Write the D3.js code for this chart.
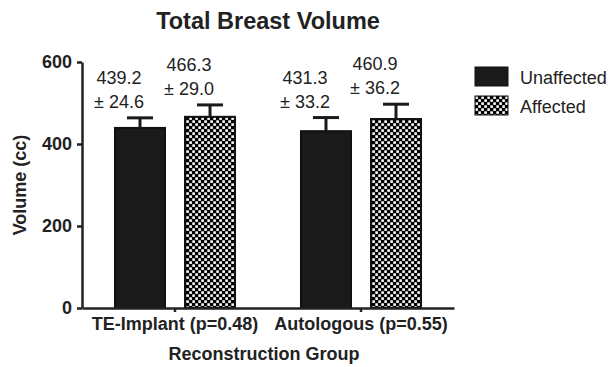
<!DOCTYPE html>
<html>
<head>
<meta charset="utf-8">
<script src="https://cdn.jsdelivr.net/npm/d3@7"></script>
<style>
  body { margin: 0; background: #fff; }
  svg { display: block; font-family: "Liberation Sans", Arial, sans-serif; }
  .axis text { font-size: 18px; font-weight: bold; fill: #222; }
  .axis path, .axis line { stroke: #222; stroke-width: 2.5; }
</style>
</head>
<body>
<svg id="chart"></svg>
<script>
const groups = ['TE-Implant (p=0.48)', 'Autologous (p=0.55)']
const seriesNames = ['Unaffected', 'Affected']
const unaffectedMean = [439.2, 431.3]
const unaffectedSD = [24.6, 33.2]
const affectedMean = [466.3, 460.9]
const affectedSD = [29.0, 36.2]
const yTicks = [0, 200, 400, 600]

const width = 608
const height = 367
const margin = { top: 62, right: 154, bottom: 59, left: 82 }

const svg = d3.select('#chart').attr('width', width).attr('height', height)

// checker fill for the affected side
const defs = svg.append('defs')
const pat = defs.append('pattern')
    .attr('id', 'checker')
    .attr('patternUnits', 'userSpaceOnUse')
    .attr('width', 6).attr('height', 6)
pat.append('rect').attr('width', 6).attr('height', 6).attr('fill', '#000')
pat.append('rect').attr('x', 0.3).attr('y', 0.3).attr('width', 2.6).attr('height', 2.6).attr('fill', '#fff')
pat.append('rect').attr('x', 3.3).attr('y', 3.3).attr('width', 2.6).attr('height', 2.6).attr('fill', '#fff')

const fills = { Unaffected: '#1a1a1a', Affected: 'url(#checker)' }

const x0 = d3.scaleBand()
    .domain(groups)
    .range([margin.left, width - margin.right])
    .padding(0)

const x1 = d3.scaleBand()
    .domain(seriesNames)
    .range([0, x0.bandwidth()])
    .paddingInner(0.2857)
    .paddingOuter(0.471)

const y = d3.scaleLinear()
    .domain([0, 600])
    .range([height - margin.bottom, margin.top])

const rows = []
groups.forEach((g, i) => {
    rows.push({ group: g, series: 'Unaffected', mean: unaffectedMean[i], sd: unaffectedSD[i] })
    rows.push({ group: g, series: 'Affected', mean: affectedMean[i], sd: affectedSD[i] })
})

// bars
svg.append('g').selectAll('rect')
    .data(rows)
    .join('rect')
    .attr('x', d => x0(d.group) + x1(d.series))
    .attr('y', d => y(d.mean))
    .attr('width', x1.bandwidth())
    .attr('height', d => y(0) - y(d.mean))
    .attr('fill', d => fills[d.series])
    .attr('stroke', '#111')
    .attr('stroke-width', 2)

// error bars (upper only)
const err = svg.append('g').attr('stroke', '#1a1a1a').attr('stroke-width', 3)
rows.forEach(d => {
    const cx = x0(d.group) + x1(d.series) + x1.bandwidth() / 2
    err.append('line')
        .attr('x1', cx).attr('x2', cx)
        .attr('y1', y(d.mean)).attr('y2', y(d.mean + d.sd))
    err.append('line')
        .attr('x1', cx - 13).attr('x2', cx + 13)
        .attr('y1', y(d.mean + d.sd)).attr('y2', y(d.mean + d.sd))
})

// mean ± sd labels
const labels = svg.append('g')
    .attr('font-size', 18)
    .attr('fill', '#222')
    .attr('text-anchor', 'middle')
rows.forEach(d => {
    const cx = x0(d.group) + x1(d.series) + x1.bandwidth() / 2 - 21
    const top = y(d.mean + d.sd)
    labels.append('text').attr('x', cx).attr('y', top - 34).text(d.mean.toFixed(1))
    labels.append('text').attr('x', cx).attr('y', top - 10).text('± ' + d.sd.toFixed(1))
})

// axes
svg.append('g')
    .attr('class', 'axis')
    .attr('transform', `translate(${ margin.left },0)`)
    .call(d3.axisLeft(y).tickValues(yTicks).tickSize(5).tickSizeOuter(0).tickPadding(5))

svg.append('g')
    .attr('class', 'axis')
    .attr('transform', `translate(0,${ height - margin.bottom })`)
    .call(d3.axisBottom(x0).tickSize(4).tickSizeOuter(0).tickPadding(5))

// titles
svg.append('text')
    .attr('x', 268).attr('y', 29)
    .attr('text-anchor', 'middle')
    .attr('font-size', 23.5).attr('font-weight', 'bold').attr('fill', '#222')
    .text('Total Breast Volume')

svg.append('text')
    .attr('x', 264).attr('y', 360)
    .attr('text-anchor', 'middle')
    .attr('font-size', 18).attr('font-weight', 'bold').attr('fill', '#222')
    .text('Reconstruction Group')

svg.append('text')
    .attr('transform', `translate(26,${ (y(0) + y(600)) / 2 }) rotate(-90)`)
    .attr('text-anchor', 'middle')
    .attr('font-size', 18).attr('font-weight', 'bold').attr('fill', '#222')
    .text('Volume (cc)')

// legend
const legend = svg.append('g').attr('transform', 'translate(475,67)')
seriesNames.forEach((s, i) => {
    const row = legend.append('g').attr('transform', `translate(0,${ i * 29 })`)
    row.append('rect')
        .attr('width', 33).attr('height', 19)
        .attr('fill', fills[s]).attr('stroke', '#111').attr('stroke-width', 1)
    row.append('text')
        .attr('x', 45).attr('y', 17)
        .attr('font-size', 18).attr('fill', '#222')
        .text(s)
})
</script>
</body>
</html>
